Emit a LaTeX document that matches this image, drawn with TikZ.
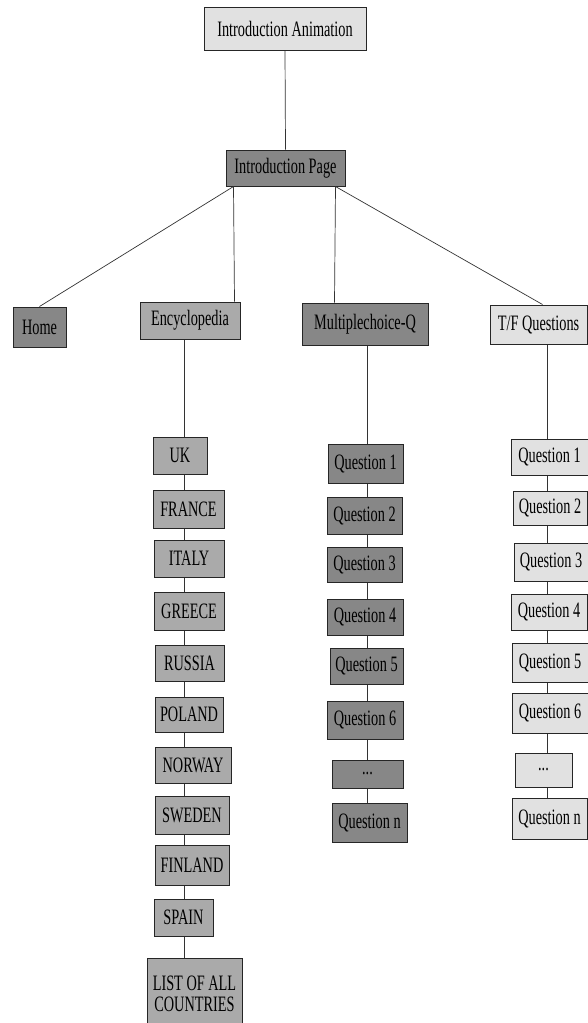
\documentclass[tikz,border=0pt]{standalone}
\usepackage{fontspec}
\setmainfont{Liberation Serif}[FakeStretch=0.65]
\usetikzlibrary{positioning,calc}
\definecolor{PaleGray}{HTML}{E1E1E1}
\definecolor{MidGray}{HTML}{AAAAAA}
\definecolor{DarkGray}{HTML}{878787}

% box from its corners: style, name, x1, x2, y1, y2, text
\newcommand\pagebox[7]{%
  \node[box,#1,minimum width={#4-#3},minimum height={#6-#5}] (#2)
    at ({(#3+#4)/2},{(#5+#6)/2}) {#7};}

\begin{document}
\begin{tikzpicture}[x=1pt,y=-1pt,
    box/.style={draw=black!85,line width=1pt,inner sep=0pt,align=center,
      font=\fontsize{22}{21}\selectfont},
    pale/.style={fill=PaleGray},
    mid/.style={fill=MidGray},
    dark/.style={fill=DarkGray},
    link/.style={draw=black!80,line width=0.7pt},
  ]
  \useasboundingbox (0,0) rectangle (588,1023);
  \fill[white] (0,0) rectangle (588,1023);

  % top levels
  \pagebox{pale}{ianim}{204}{366}{7}{50}{Introduction Animation}
  \pagebox{dark}{ipage}{226}{345}{150}{186}{Introduction Page}
  \pagebox{dark}{home}{13}{66}{307}{347}{Home}
  \pagebox{mid}{enc}{140}{240}{302}{339}{Encyclopedia}
  \pagebox{dark}{mcq}{302}{428}{303}{345}{Multiplechoice-Q}
  \pagebox{pale}{tfq}{490}{587}{305}{344}{T/F Questions}

  % encyclopedia pages
  \pagebox{mid}{uk}{153}{207}{437}{474}{UK}
  \pagebox{mid}{fra}{153}{224}{490}{528}{FRANCE}
  \pagebox{mid}{ita}{154}{224}{540}{577}{ITALY}
  \pagebox{mid}{gre}{154}{224}{592}{630}{GREECE}
  \pagebox{mid}{rus}{155}{224}{645}{681}{RUSSIA}
  \pagebox{mid}{pol}{155}{223}{697}{732}{POLAND}
  \pagebox{mid}{nor}{155}{231}{747}{783}{NORWAY}
  \pagebox{mid}{swe}{155}{229}{796}{834}{SWEDEN}
  \pagebox{mid}{fin}{155}{229}{845}{885}{FINLAND}
  \pagebox{mid}{spa}{154}{213}{899}{936}{SPAIN}
  \pagebox{mid}{all}{147}{242}{958}{1030}{LIST OF ALL\\COUNTRIES}

  % multiple choice questions
  \pagebox{dark}{m1}{328}{403}{444}{483}{Question 1}
  \pagebox{dark}{m2}{327}{402}{497}{534}{Question 2}
  \pagebox{dark}{m3}{327}{402}{547}{582}{Question 3}
  \pagebox{dark}{m4}{327}{403}{599}{635}{Question 4}
  \pagebox{dark}{m5}{330}{403}{648}{684}{Question 5}
  \pagebox{dark}{m6}{327}{403}{701}{739}{Question 6}
  \pagebox{dark}{mdots}{332}{403}{760}{788}{...}
  \pagebox{dark}{mn}{332}{407}{803}{842}{Question n}

  % true / false questions
  \pagebox{pale}{t1}{511}{588}{439}{475}{Question 1}
  \pagebox{pale}{t2}{513}{587}{491}{525}{Question 2}
  \pagebox{pale}{t3}{514}{588}{543}{581}{Question 3}
  \pagebox{pale}{t4}{511}{587}{594}{630}{Question 4}
  \pagebox{pale}{t5}{512}{588}{643}{682}{Question 5}
  \pagebox{pale}{t6}{512}{588}{693}{733}{Question 6}
  \pagebox{pale}{tdots}{515}{572}{753}{787}{...}
  \pagebox{pale}{tn}{512}{587}{798}{839}{Question n}

  % links between levels
  \draw[link] (ianim.south) -- (ipage.north);
  \draw[link] ([xshift=8]ipage.south west) -- (home.north);
  \draw[link] ([xshift=8]ipage.south west) -- ([xshift=-6]enc.north east);
  \draw[link] ([xshift=-10]ipage.south east) -- ([xshift=33]mcq.north west);
  \draw[link] ([xshift=-10]ipage.south east) -- ([xshift=4]tfq.north);

  % columns
  \coordinate (ecol) at (184,0);
  \coordinate (mcol) at (367,0);
  \coordinate (tcol) at (547,0);
  \foreach \a/\b in {enc/uk,uk/fra,fra/ita,ita/gre,gre/rus,rus/pol,pol/nor,
      nor/swe,swe/fin,fin/spa,spa/all}
    \draw[link] (ecol |- \a.south) -- (ecol |- \b.north);
  \foreach \a/\b in {mcq/m1,m1/m2,m2/m3,m3/m4,m4/m5,m5/m6,m6/mdots,mdots/mn}
    \draw[link] (mcol |- \a.south) -- (mcol |- \b.north);
  \foreach \a/\b in {tfq/t1,t1/t2,t2/t3,t3/t4,t4/t5,t5/t6,t6/tdots,tdots/tn}
    \draw[link] (tcol |- \a.south) -- (tcol |- \b.north);
\end{tikzpicture}
\end{document}
